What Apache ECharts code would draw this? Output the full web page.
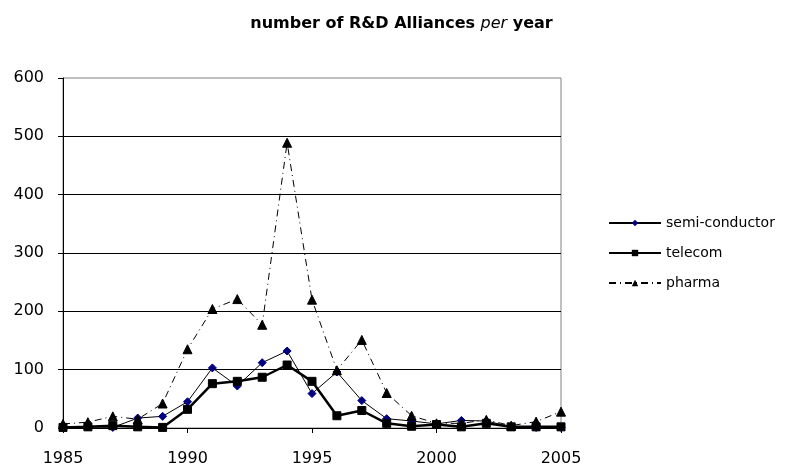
<!DOCTYPE html>
<html>
<head>
<meta charset="utf-8">
<script src="https://cdn.jsdelivr.net/npm/echarts@6/dist/echarts.min.js"></script>
<style>html,body{margin:0;padding:0;background:#fff}#c{width:803px;height:472px}</style>
</head>
<body>
<div id="c"></div>
<script>
const years = [1985,1986,1987,1988,1989,1990,1991,1992,1993,1994,1995,1996,1997,1998,1999,2000,2001,2002,2003,2004,2005];
const semiConductor = [2,2,1,17,20,45,103,72,112,132,59,96,47,16,12,7,13,12,2,1,1];
const telecom = [1,2,4,2,1,32,76,80,87,108,80,21,30,8,3,6,2,8,2,2,2];
const pharma = [7,10,20,15,42,135,204,221,177,489,220,99,151,60,21,8,8,14,4,11,28];
const seriesNames = ['semi-conductor','telecom','pharma'];

const pair = arr => years.map((y,i)=>[y,arr[i]]);
const chart = echarts.init(document.getElementById('c'), null, {renderer:'canvas'});
const font = 'DejaVu Sans';
chart.setOption({
  animation:false,
  backgroundColor:'#fff',
  title:{
    text:'{b|number of R&D Alliances }{i|per}{b| year}',
    left:'center', top:11,
    textStyle:{
      rich:{
        b:{fontFamily:font,fontWeight:'bold',fontSize:16,color:'#000'},
        i:{fontFamily:font,fontWeight:'normal',fontStyle:'italic',fontSize:16,color:'#000'}
      }
    }
  },
  grid:{left:63,right:242,top:78,bottom:44,show:true,borderColor:'#808080',borderWidth:1,backgroundColor:'#fff'},
  legend:{
    orient:'vertical', left:608, top:216, padding:0, itemWidth:52, itemHeight:8, itemGap:16,
    textStyle:{fontFamily:font,fontSize:14,color:'#000'},
    data:seriesNames
  },
  xAxis:{
    type:'value', min:1985, max:2005, interval:5,
    axisLine:{lineStyle:{color:'#000',width:1}},
    axisTick:{show:true,length:5,inside:false,lineStyle:{color:'#000'}},
    axisLabel:{fontFamily:font,fontSize:16,color:'#000',margin:23,formatter:v=>String(v)},
    splitLine:{show:false}
  },
  yAxis:{
    type:'value', min:0, max:600, interval:100,
    axisLine:{show:true,lineStyle:{color:'#000',width:1}},
    axisTick:{show:true,length:5,inside:false,lineStyle:{color:'#000'}},
    axisLabel:{fontFamily:font,fontSize:16,color:'#000',margin:19},
    splitLine:{show:true,showMaxLine:false,lineStyle:{color:'#000',width:1}}
  },
  series:[
    {name:seriesNames[0],type:'line',data:pair(semiConductor),symbol:'diamond',symbolSize:8,
     lineStyle:{color:'#000',width:1},itemStyle:{color:'#000080',borderColor:'#000080'},z:2},
    {name:seriesNames[1],type:'line',data:pair(telecom),symbol:'rect',symbolSize:8,
     lineStyle:{color:'#000',width:2.5},itemStyle:{color:'#000',borderColor:'#000'},z:3},
    {name:seriesNames[2],type:'line',data:pair(pharma),symbol:'triangle',symbolSize:9,
     lineStyle:{color:'#000',width:1,type:[7,4,1,4]},itemStyle:{color:'#000',borderColor:'#000'},z:4}
  ]
});
</script>
</body>
</html>
